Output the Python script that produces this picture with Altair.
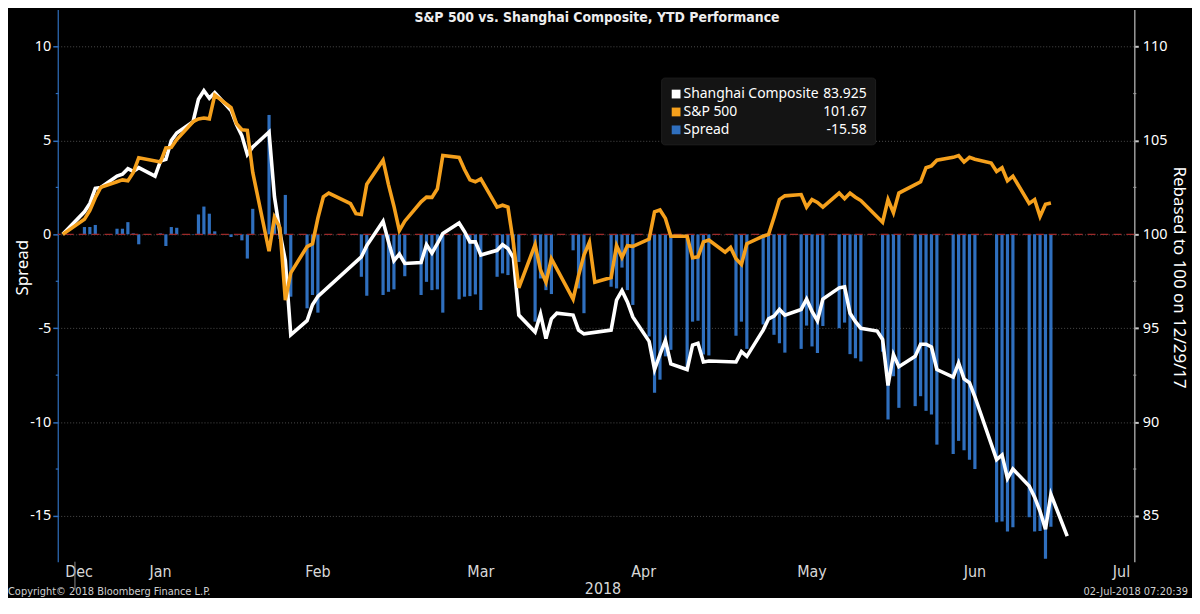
import altair as alt
import pandas as pd

# ---------------- data ----------------
sh_dates = [
    "2017-12-29",
    "2018-01-02", "2018-01-03", "2018-01-04", "2018-01-05",
    "2018-01-08", "2018-01-09", "2018-01-10", "2018-01-11", "2018-01-12",
    "2018-01-15", "2018-01-16", "2018-01-17", "2018-01-18", "2018-01-19",
    "2018-01-22", "2018-01-23", "2018-01-24", "2018-01-25", "2018-01-26",
    "2018-01-29", "2018-01-30", "2018-01-31", "2018-02-01", "2018-02-02",
    "2018-02-05", "2018-02-06", "2018-02-07", "2018-02-08", "2018-02-09",
    "2018-02-12", "2018-02-13", "2018-02-14",
    "2018-02-22", "2018-02-23",
    "2018-02-26", "2018-02-27", "2018-02-28", "2018-03-01", "2018-03-02",
    "2018-03-05", "2018-03-06", "2018-03-07", "2018-03-08", "2018-03-09",
    "2018-03-12", "2018-03-13", "2018-03-14", "2018-03-15", "2018-03-16",
    "2018-03-19", "2018-03-20", "2018-03-21", "2018-03-22", "2018-03-23",
    "2018-03-26", "2018-03-27", "2018-03-28", "2018-03-29", "2018-03-30",
    "2018-04-02", "2018-04-03", "2018-04-04",
    "2018-04-09", "2018-04-10", "2018-04-11", "2018-04-12", "2018-04-13",
    "2018-04-16", "2018-04-17", "2018-04-18", "2018-04-19", "2018-04-20",
    "2018-04-23", "2018-04-24", "2018-04-25", "2018-04-26", "2018-04-27",
    "2018-05-02", "2018-05-03", "2018-05-04",
    "2018-05-07", "2018-05-08", "2018-05-09", "2018-05-10", "2018-05-11",
    "2018-05-14", "2018-05-15", "2018-05-16", "2018-05-17", "2018-05-18",
    "2018-05-21", "2018-05-22", "2018-05-23", "2018-05-24", "2018-05-25",
    "2018-05-28", "2018-05-29", "2018-05-30", "2018-05-31", "2018-06-01",
    "2018-06-04", "2018-06-05", "2018-06-06", "2018-06-07", "2018-06-08",
    "2018-06-11", "2018-06-12", "2018-06-13", "2018-06-14", "2018-06-15",
    "2018-06-19", "2018-06-20", "2018-06-21", "2018-06-22",
    "2018-06-25", "2018-06-26", "2018-06-27", "2018-06-28", "2018-06-29",
    "2018-07-02",
]
sh_values = [
    100.0,
    101.2, 101.65, 102.45, 102.5,
    103.1, 103.2, 103.5, 103.35, 103.55,
    103.1, 103.9, 104.0, 105.0, 105.4,
    106.0, 107.2, 107.65, 107.25, 107.55,
    106.6, 105.85, 105.25, 104.25, 104.65,
    105.45, 102.0, 100.1, 98.6, 94.65,
    95.4, 96.25, 96.7,
    98.8, 99.4,
    100.7, 99.6, 98.6, 98.95, 98.45,
    98.5, 99.45, 99.0, 99.5, 100.05,
    100.6, 100.15, 99.6, 99.6, 98.9,
    99.15, 99.45, 99.25, 98.75, 95.7,
    94.8, 95.75, 94.45, 95.5, 95.8,
    95.7, 94.9, 94.7,
    94.9, 96.5, 97.0, 96.4, 95.6,
    94.3, 92.8, 93.6, 94.35, 93.1,
    92.8, 94.1, 94.2, 93.2, 93.25,
    93.2, 93.75, 93.5,
    94.9, 95.5, 95.65, 96.0, 95.7,
    96.0, 96.55, 95.9, 95.4, 96.55,
    97.15, 97.2, 95.8, 95.35, 95.0,
    94.85, 94.4, 91.95, 93.6, 92.95,
    93.5, 94.15, 94.15, 94.0, 92.8,
    92.4, 93.15, 92.3, 92.1, 91.35,
    88.0, 88.25, 87.0, 87.5,
    86.6, 86.0, 85.25, 84.3, 86.15,
    83.925,
]

sp_dates = [
    "2017-12-29",
    "2018-01-02", "2018-01-03", "2018-01-04", "2018-01-05",
    "2018-01-08", "2018-01-09", "2018-01-10", "2018-01-11", "2018-01-12",
    "2018-01-16", "2018-01-17", "2018-01-18", "2018-01-19",
    "2018-01-22", "2018-01-23", "2018-01-24", "2018-01-25", "2018-01-26",
    "2018-01-29", "2018-01-30", "2018-01-31", "2018-02-01", "2018-02-02",
    "2018-02-05", "2018-02-06", "2018-02-07", "2018-02-08", "2018-02-09",
    "2018-02-12", "2018-02-13", "2018-02-14", "2018-02-15", "2018-02-16",
    "2018-02-20", "2018-02-21", "2018-02-22", "2018-02-23",
    "2018-02-26", "2018-02-27", "2018-02-28", "2018-03-01", "2018-03-02",
    "2018-03-05", "2018-03-06", "2018-03-07", "2018-03-08", "2018-03-09",
    "2018-03-12", "2018-03-13", "2018-03-14", "2018-03-15", "2018-03-16",
    "2018-03-19", "2018-03-20", "2018-03-21", "2018-03-22", "2018-03-23",
    "2018-03-26", "2018-03-27", "2018-03-28", "2018-03-29",
    "2018-04-02", "2018-04-03", "2018-04-04", "2018-04-05", "2018-04-06",
    "2018-04-09", "2018-04-10", "2018-04-11", "2018-04-12", "2018-04-13",
    "2018-04-16", "2018-04-17", "2018-04-18", "2018-04-19", "2018-04-20",
    "2018-04-23", "2018-04-24", "2018-04-25", "2018-04-26", "2018-04-27",
    "2018-04-30", "2018-05-01", "2018-05-02", "2018-05-03", "2018-05-04",
    "2018-05-07", "2018-05-08", "2018-05-09", "2018-05-10", "2018-05-11",
    "2018-05-14", "2018-05-15", "2018-05-16", "2018-05-17", "2018-05-18",
    "2018-05-21", "2018-05-22", "2018-05-23", "2018-05-24", "2018-05-25",
    "2018-05-29", "2018-05-30", "2018-05-31", "2018-06-01",
    "2018-06-04", "2018-06-05", "2018-06-06", "2018-06-07", "2018-06-08",
    "2018-06-11", "2018-06-12", "2018-06-13", "2018-06-14", "2018-06-15",
    "2018-06-18", "2018-06-19", "2018-06-20", "2018-06-21", "2018-06-22",
    "2018-06-25", "2018-06-26", "2018-06-27", "2018-06-28", "2018-06-29",
]
sp_values = [
    100.0,
    100.8, 101.27, 101.95, 102.5,
    102.8, 102.9, 102.85, 103.3, 104.08,
    103.85, 104.6, 104.63, 105.05,
    106.0, 106.15, 106.2, 106.15, 107.42,
    106.75, 105.9, 105.57, 105.54, 103.3,
    99.1, 100.9, 100.35, 96.5, 97.95,
    99.35, 99.5, 100.87, 102.0, 102.2,
    101.64, 101.1, 101.06, 102.67,
    103.95, 102.65, 101.5, 100.2, 100.7,
    101.73, 101.98, 101.97, 102.43, 104.2,
    104.1, 103.45, 102.9, 102.8, 102.95,
    101.45, 101.55, 101.45, 99.55, 97.15,
    99.45, 98.1, 97.45, 98.7,
    96.55, 97.8, 98.9, 99.58, 97.45,
    97.7, 99.4, 98.77, 99.4, 99.36,
    99.75, 101.2, 101.3, 100.85, 99.9,
    99.9, 98.75, 98.8, 99.6, 99.7,
    99.05, 99.3, 98.7, 98.4, 99.5,
    99.9, 100.0, 100.9, 101.85, 102.05,
    102.12, 101.45, 101.85, 101.7, 101.45,
    102.2, 101.9, 102.2, 101.98, 101.8,
    100.65, 101.85, 101.15, 102.2,
    102.65, 102.8, 103.55, 103.65, 103.95,
    104.1, 104.2, 103.85, 104.1, 104.0,
    103.8, 103.35, 103.55, 102.85, 103.1,
    101.65, 101.85, 100.95, 101.6, 101.67,
]

# spread bars: one per day on which both markets traded
spread_values = [
    0.39, 0.39, 0.5, 0.0,
    0.3, 0.3, 0.65, 0.05, -0.53,
    0.05, -0.62, 0.39, 0.35,
    0.02, 1.06, 1.48, 1.1, 0.16,
    -0.14, -0.05, -0.32, -1.29, 1.36,
    6.36, 1.1, -0.25, 2.1, -3.32,
    -3.94, -3.23, -4.17,
    -2.26, -3.27,
    -3.23, -3.06, -2.93, -1.25, -2.23,
    -3.23, -2.53, -2.97, -2.93, -4.17,
    -3.46, -3.32, -3.29, -3.2, -4.03,
    -2.26, -2.08, -2.17, -0.8, -1.47,
    -4.65, -2.35, -2.97, -3.18,
    -0.85, -2.88, -4.2,
    -2.79, -2.88, -1.77, -2.97, -3.76,
    -5.44, -8.44, -7.74, -6.5, -6.15,
    -7.1, -4.65, -4.6, -6.4, -6.45,
    -5.4, -4.65, -6.1,
    -4.8, -4.55, -5.35, -5.8, -6.3,
    -6.1, -4.86, -5.97, -6.32, -4.88,
    -5.0, -4.7, -6.38, -6.6, -6.77,
    -6.25, -9.86, -7.56, -9.24,
    -9.15, -8.62, -9.4, -9.6, -11.2,
    -11.7, -11.0, -11.5, -12.0, -12.5,
    -15.33, -15.3, -15.83, -15.6,
    -15.07, -15.83, -15.8, -17.28, -15.58,
]
spread_dates = [d for d in sh_dates if d in sp_dates and d != "2017-12-29"]

month_names = ["Dec", "Jan", "Feb", "Mar", "Apr", "May", "Jun", "Jul"]
month_label_dates = ["2018-01-01", "2018-01-16", "2018-02-14", "2018-03-16",
                     "2018-04-15", "2018-05-16", "2018-06-15", "2018-07-12"]
month_starts = ["2018-01-01", "2018-02-01", "2018-03-01", "2018-04-01",
                "2018-05-01", "2018-06-01", "2018-07-01"]
spread_ticks = [-15, -10, -5, 0, 5, 10]
spread_minor = [-12.5, -7.5, -2.5, 2.5, 7.5]
index_ticks = [85, 90, 95, 100, 105, 110]
index_minor = [87.5, 92.5, 97.5, 102.5, 107.5]

assert len(sh_dates) == len(sh_values)
assert len(sp_dates) == len(sp_values)
assert len(spread_dates) == len(spread_values)

# ---------------- helpers ----------------
BASE = pd.Timestamp("2017-12-29")


def day(d, shift=0.0):
    return float((pd.Timestamp(d) - BASE).days) + shift


W, H = 1082, 555
X_DOM = [0, 196.44]
SPREAD_DOM = [-17.435, 11.977]
INDEX_DOM = [82.565, 111.977]

NARROW = "Liberation Sans Narrow, Arial Narrow, DejaVu Sans Condensed, sans-serif"
SANS = "Noto Sans, Open Sans, DejaVu Sans, sans-serif"

WHITE = "#ffffff"
ORANGE = "#f5a01c"
BLUE = "#2f6fbe"
GRID = "#4d4d4d"

xs = alt.Scale(domain=X_DOM, nice=False, zero=False)
ys_spread = alt.Scale(domain=SPREAD_DOM, nice=False, zero=False)
ys_index = alt.Scale(domain=INDEX_DOM, nice=False, zero=False)

one = pd.DataFrame({"a": [0]})
hyphen_labels = "datum.value < 0 ? '-' + abs(datum.value) : '' + datum.value"

# ---------------- spread (left axis) ----------------
bars_df = pd.DataFrame({"day": [day(d) for d in spread_dates], "spread": spread_values})
bars = alt.Chart(bars_df).mark_bar(color=BLUE, size=3.2).encode(
    x=alt.X("day:Q", scale=xs, axis=alt.Axis(
        values=[day(m, -0.75) for m in month_starts], labels=False, title=None,
        grid=True, gridColor=GRID, gridDash=[1, 2], gridWidth=1,
        tickColor="#9a9a9a", tickSize=4, domainColor="#9a9a9a", domainWidth=2)),
    y=alt.Y("spread:Q", scale=ys_spread, axis=alt.Axis(
        orient="left", values=spread_ticks, grid=True, gridColor=GRID, gridDash=[1, 2],
        labelColor=WHITE, labelFont=SANS, labelFontSize=14.5, labelPadding=2,
        labelExpr=hyphen_labels,
        tickColor=BLUE, tickSize=5, tickWidth=1.5, domainColor=BLUE, domainWidth=1.2,
        title="Spread", titleColor=WHITE, titleFont=SANS, titleFontSize=17,
        titleFontWeight="normal", titleAngle=270, titleX=-35, titleY=259,
        titleAlign="center", titleBaseline="middle")),
    y2=alt.datum(0),
)

zero_rule = alt.Chart(pd.DataFrame({"v": [0]})).mark_rule(
    color="#9c2a2a", strokeDash=[8, 5], strokeWidth=1.2).encode(
    y=alt.Y("v:Q", scale=ys_spread, axis=None))

minor_left = alt.Chart(pd.DataFrame({"v": spread_minor})).mark_rule(
    color=BLUE, strokeWidth=1.2).encode(
    y=alt.Y("v:Q", scale=ys_spread, axis=None),
    x=alt.value(-2), x2=alt.value(1))

# ---------------- index lines (right axis) ----------------
sh_df = pd.DataFrame({"day": [day(d) for d in sh_dates], "v": sh_values})
sp_df = pd.DataFrame({"day": [day(d) for d in sp_dates], "v": sp_values})

white_line = alt.Chart(sh_df).mark_line(color=WHITE, strokeWidth=3.6).encode(
    x=alt.X("day:Q", scale=xs, axis=None),
    y=alt.Y("v:Q", scale=ys_index, axis=alt.Axis(
        orient="right", values=index_ticks, grid=False,
        labelColor=WHITE, labelFont=SANS, labelFontSize=14.5, labelPadding=4,
        tickColor="#c8c8c8", tickSize=4, tickWidth=2, domainColor="#9a9a9a", domainWidth=1.5,
        title="Rebased to 100 on 12/29/17", titleColor=WHITE, titleFont=SANS,
        titleFontSize=17, titleFontWeight="normal", titleAngle=90, titleX=44, titleY=269,
        titleAlign="center", titleBaseline="middle")),
)
orange_line = alt.Chart(sp_df).mark_line(color=ORANGE, strokeWidth=3.6).encode(
    x=alt.X("day:Q", scale=xs, axis=None),
    y=alt.Y("v:Q", scale=ys_index, axis=None),
)
minor_right = alt.Chart(pd.DataFrame({"v": index_minor})).mark_rule(
    color="#9a9a9a", strokeWidth=1.2).encode(
    y=alt.Y("v:Q", scale=ys_index, axis=None),
    x=alt.value(W - 1), x2=alt.value(W + 2))

# ---------------- decorations ----------------
title = alt.Chart(one).mark_text(
    text="S&P 500 vs. Shanghai Composite, YTD Performance", font=NARROW,
    fontSize=14, fontWeight="bold", color="#eeeeee", align="center", baseline="middle"
).encode(x=alt.value(542), y=alt.value(9))

months_df = pd.DataFrame({"day": [day(d) for d in month_label_dates], "m": month_names})
month_labels = alt.Chart(months_df).mark_text(
    font=NARROW, fontSize=16, color="#d8d8d8", align="center", baseline="middle"
).encode(x=alt.X("day:Q", scale=xs, axis=None), y=alt.value(H + 10), text="m:N")

year_label = alt.Chart(one).mark_text(
    text="2018", font=NARROW, fontSize=16, color="#d8d8d8", align="center", baseline="middle"
).encode(x=alt.value(548), y=alt.value(H + 27))

year_tick = alt.Chart(pd.DataFrame({"day": [day("2018-01-01", -0.75)]})).mark_rule(
    color="#8a8a8a", strokeWidth=1).encode(
    x=alt.X("day:Q", scale=xs, axis=None), y=alt.value(H), y2=alt.value(H + 28))

copyright_txt = alt.Chart(one).mark_text(
    text="Copyright\u00a9 2018 Bloomberg Finance L.P.", font=NARROW, fontSize=11,
    color="#cfcfcf", align="left", baseline="bottom"
).encode(x=alt.value(-50), y=alt.value(H + 35))

stamp_txt = alt.Chart(one).mark_text(
    text="02-Jul-2018 07:20:39", font=NARROW, fontSize=11,
    color="#cfcfcf", align="right", baseline="bottom"
).encode(x=alt.value(1136), y=alt.value(H + 35))

legend_box = alt.Chart(one).mark_rect(
    color="#141414", stroke="#1e1e1e", cornerRadius=3).encode(
    x=alt.value(607), x2=alt.value(822), y=alt.value(69), y2=alt.value(136))

legend_df = pd.DataFrame({
    "name": ["Shanghai Composite", "S&P 500", "Spread"],
    "val": [f"{sh_values[-1]:.3f}", f"{sp_values[-1]:.2f}", f"{spread_values[-1]:.2f}"],
    "col": [WHITE, ORANGE, BLUE],
    "ry": [85, 103, 121],
})
legend_sq = alt.Chart(legend_df).mark_square(size=78, opacity=1, filled=True).encode(
    x=alt.value(621.5),
    y=alt.Y("ry:Q", scale=None, axis=None),
    color=alt.Color("col:N", scale=None),
)
legend_name = alt.Chart(legend_df).mark_text(
    font=SANS, fontSize=14, color=WHITE, align="left", baseline="middle").encode(
    x=alt.value(629), y=alt.Y("ry:Q", scale=None, axis=None), text="name:N")
legend_val = alt.Chart(legend_df).mark_text(
    font=SANS, fontSize=14, color=WHITE, align="right", baseline="middle").encode(
    x=alt.value(813), y=alt.Y("ry:Q", scale=None, axis=None), text="val:N")

chart = alt.layer(
    bars, zero_rule, minor_left, white_line, orange_line, minor_right,
    month_labels, year_tick, year_label, title,
    copyright_txt, stamp_txt, legend_box, legend_sq, legend_name, legend_val,
).resolve_scale(y="independent").properties(
    width=W, height=H, background="#000000",
    padding={"left": 50, "top": 0, "right": 58, "bottom": 35},
    autosize=alt.AutoSizeParams(type="none"),
).configure_view(stroke=None)

chart.save("out.html", embed_options={"renderer": "svg", "actions": False})
